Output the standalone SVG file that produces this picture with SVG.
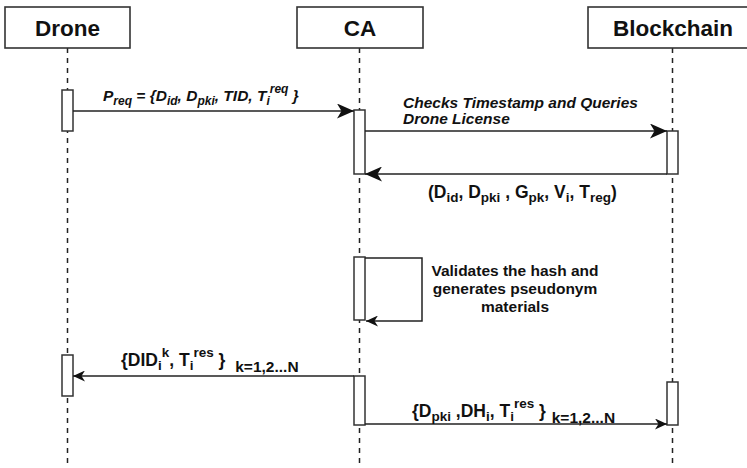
<svg xmlns="http://www.w3.org/2000/svg" width="747" height="468" viewBox="0 0 747 468">
  <style>
    .head { fill: #fff; stroke: #333; stroke-width: 1.6; }
    .htxt { font-family: "Liberation Sans", Arial, sans-serif; font-weight: bold; font-size: 22.5px; fill: #111; text-anchor: middle; }
    .life { stroke: #222; stroke-width: 1.5; stroke-dasharray: 5 5; fill: none; }
    .act { fill: #fff; stroke: #333; stroke-width: 1.5; }
    .msg { stroke: #222; stroke-width: 1.5; fill: none; }
    .lbl { font-family: "Liberation Sans", Arial, sans-serif; font-weight: bold; font-size: 15.5px; fill: #111; }
    .big { font-size: 17.5px; }
    .it { font-style: italic; }
    .sub { font-size: 12px; }
    .big .sub { font-size: 13.5px; }
    .rng { font-size: 15.5px; }
  </style>
  <defs>
    <marker id="arrowBig" markerUnits="userSpaceOnUse" markerWidth="18" markerHeight="15" refX="17" refY="7.5" orient="auto">
      <path d="M0,0 L17,7.5 L0,15 L4.5,7.5 Z" fill="#111"/>
    </marker>
    <marker id="arrowSmall" markerUnits="userSpaceOnUse" markerWidth="13" markerHeight="11" refX="12" refY="5.5" orient="auto">
      <path d="M0,0 L12,5.5 L0,11 L3.5,5.5 Z" fill="#111"/>
    </marker>
  </defs>

  <rect width="747" height="468" fill="#fff"/>

  <!-- participants with their lifelines -->
  <g id="drone">
    <line class="life" x1="67.5" y1="48" x2="67.5" y2="468"/>
    <rect class="head" x="5" y="7" width="125" height="41"/>
    <text class="htxt" x="67.5" y="35.5">Drone</text>
  </g>
  <g id="ca">
    <line class="life" x1="359.5" y1="48" x2="359.5" y2="468"/>
    <rect class="head" x="297" y="7" width="126" height="41"/>
    <text class="htxt" x="360" y="35.5">CA</text>
  </g>
  <g id="blockchain">
    <line class="life" x1="672.5" y1="48" x2="672.5" y2="468"/>
    <rect class="head" x="588" y="7" width="170" height="41"/>
    <text class="htxt" x="673" y="35.5">Blockchain</text>
  </g>

  <!-- activation bars -->
  <g id="activations">
    <rect id="drone-act-1" class="act" x="62" y="90" width="11" height="41"/>
    <rect id="ca-act-1" class="act" x="354" y="110" width="11" height="64"/>
    <rect id="bc-act-1" class="act" x="667" y="131" width="11" height="43"/>
    <rect id="ca-act-2" class="act" x="354" y="257" width="11" height="63"/>
    <rect id="drone-act-2" class="act" x="62" y="355" width="11" height="41"/>
    <rect id="ca-act-3" class="act" x="354" y="376" width="11" height="49"/>
    <rect id="bc-act-2" class="act" x="667" y="382" width="11" height="43"/>
  </g>

  <!-- messages -->
  <g id="connectors">
    <line class="msg" x1="73" y1="111" x2="354" y2="111" marker-end="url(#arrowBig)"/>
    <line class="msg" x1="365" y1="131" x2="667" y2="131" marker-end="url(#arrowBig)"/>
    <line class="msg" x1="667" y1="174" x2="365" y2="174" marker-end="url(#arrowBig)"/>
    <path class="msg" d="M365,258 H422 V321 H366" marker-end="url(#arrowSmall)"/>
    <line class="msg" x1="354" y1="376" x2="73" y2="376" marker-end="url(#arrowSmall)"/>
    <line class="msg" x1="365" y1="424" x2="667" y2="424" marker-end="url(#arrowSmall)"/>
  </g>

  <!-- message labels -->
  <g id="labels">
    <text class="lbl it" x="103" y="101">P<tspan class="sub" dy="4">req</tspan><tspan dy="-4"> = {D</tspan><tspan class="sub" dy="4">id</tspan><tspan dy="-4">, D</tspan><tspan class="sub" dy="4">pki</tspan><tspan dy="-4">, TID, T</tspan><tspan class="sub" dy="4">i</tspan><tspan class="sub" dy="-12">req</tspan><tspan dy="8"> }</tspan></text>

    <text class="lbl it" x="403" y="108">Checks Timestamp and Queries</text>
    <text class="lbl it" x="403" y="124">Drone License</text>

    <text class="lbl big" x="428" y="198">(D<tspan class="sub" dy="4">id</tspan><tspan dy="-4">, D</tspan><tspan class="sub" dy="4">pki</tspan><tspan dy="-4"> , G</tspan><tspan class="sub" dy="4">pk</tspan><tspan dy="-4">, V</tspan><tspan class="sub" dy="4">i</tspan><tspan dy="-4">, T</tspan><tspan class="sub" dy="4">reg</tspan><tspan dy="-4">)</tspan></text>

    <text class="lbl" x="515" y="276" text-anchor="middle">Validates the hash and</text>
    <text class="lbl" x="515" y="294" text-anchor="middle">generates pseudonym</text>
    <text class="lbl" x="515" y="312" text-anchor="middle">materials</text>

    <text class="lbl big" x="121" y="366">{DID<tspan class="sub" dy="4">i</tspan><tspan class="sub" dy="-13">k</tspan><tspan dy="9">, T</tspan><tspan class="sub" dy="4">i</tspan><tspan class="sub" dy="-13">res</tspan><tspan dy="9"> } </tspan><tspan class="rng" dx="5" dy="6">k=1,2...N</tspan></text>

    <text class="lbl big" x="412" y="417">{D<tspan class="sub" dy="4">pki</tspan><tspan dy="-4"> ,DH</tspan><tspan class="sub" dy="4">i</tspan><tspan dy="-4">, T</tspan><tspan class="sub" dy="4">i</tspan><tspan class="sub" dy="-13">res</tspan><tspan dy="9"> } </tspan><tspan class="rng" dx="1" dy="6">k=1,2...N</tspan></text>
  </g>
</svg>
